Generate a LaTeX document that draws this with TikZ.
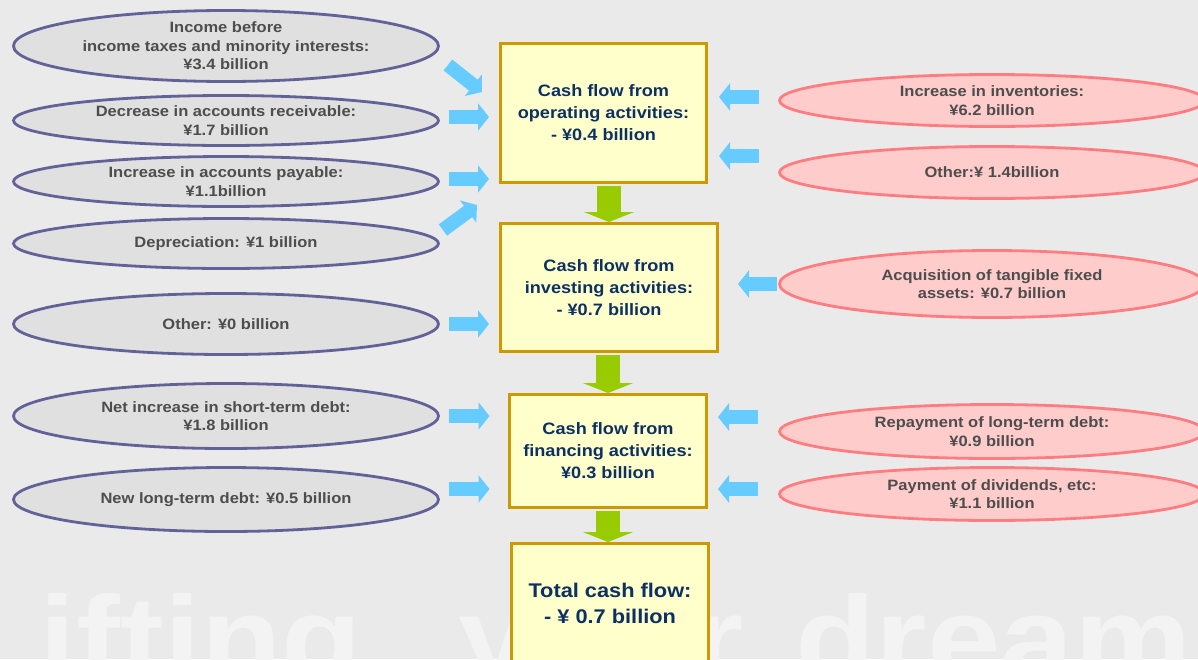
\documentclass[tikz,border=0pt]{standalone}
\usepackage{fontspec}
\setmainfont{Liberation Sans}[FakeStretch=1.1]
\usetikzlibrary{shapes.geometric,arrows.meta}
\definecolor{bgcol}{RGB}{234,234,234}
\definecolor{wmcol}{RGB}{243,243,243}
\definecolor{inline}{RGB}{98,98,152}
\definecolor{infill}{RGB}{224,224,224}
\definecolor{outline}{RGB}{255,124,128}
\definecolor{outfill}{RGB}{255,204,204}
\definecolor{boxedge}{RGB}{204,153,0}
\definecolor{boxfill}{RGB}{255,255,204}
\definecolor{navy}{RGB}{12,48,98}
\definecolor{txtgrey}{RGB}{77,77,77}
\definecolor{skyarrow}{RGB}{102,204,255}
\definecolor{limearrow}{RGB}{153,204,0}
\tikzset{
  inflow/.style={ellipse,draw=inline,fill=infill,line width=2.8pt,inner sep=0pt,
    minimum width=425,align=center,text=txtgrey,
    font=\fontsize{15}{18.5}\selectfont\bfseries},
  outflow/.style={inflow,draw=outline,fill=outfill},
  cfbox/.style={rectangle,draw=boxedge,fill=boxfill,line width=3pt,inner sep=0pt,
    align=center,text=navy,font=\fontsize{16.5}{22}\selectfont\bfseries},
  bluearr/.style={draw=skyarrow,line width=14pt,-{Triangle[length=11pt,width=27pt]}},
  greenarr/.style={draw=limearrow,line width=24pt,-{Triangle[length=10pt,width=50pt]}},
  watermark/.style={inner sep=0pt,text=wmcol,font=\fontsize{120}{120}\selectfont\bfseries}
}
\begin{document}
\begin{tikzpicture}[x=1pt,y=-1pt]
\useasboundingbox (0,0) rectangle (1198,659);
\fill[bgcol] (0,0) rectangle (1198,659);
\begin{scope}
\clip (0,0) rectangle (1198,659);
\node[watermark,anchor=base west] (wmA) at (-41,680) {Lifting};
\node[watermark,anchor=base west] (wmB) at (458,680) {your};
\node[watermark,anchor=base west] (wmC) at (795,680) {dreams};

\node[inflow,minimum height=71] (inc) at (226,46) {Income before\\income taxes and minority interests:\\¥3.4 billion};
\node[inflow,minimum height=50] (ar) at (226,120.5) {Decrease in accounts receivable:\\¥1.7 billion};
\node[inflow,minimum height=50] (ap) at (226,181.5) {Increase in accounts payable:\\¥1.1billion};
\node[inflow,minimum height=50] (dep) at (226,243.5) {Depreciation: ¥1 billion};
\node[inflow,minimum height=61] (oth) at (226,324) {Other: ¥0 billion};
\node[inflow,minimum height=65] (std) at (226,416) {Net increase in short-term debt:\\¥1.8 billion};
\node[inflow,minimum height=64] (ltd) at (226,499.5) {New long-term debt: ¥0.5 billion};

\node[outflow,minimum height=52] (invt) at (992,100.5) {Increase in inventories:\\¥6.2 billion};
\node[outflow,minimum height=52] (othr) at (992,172.5) {Other:¥ 1.4billion};
\node[outflow,minimum height=67] (acq) at (992,284) {Acquisition of tangible fixed\\assets: ¥0.7 billion};
\node[outflow,minimum height=54] (rep) at (992,431.5) {Repayment of long-term debt:\\¥0.9 billion};
\node[outflow,minimum height=53] (div) at (992,494) {Payment of dividends, etc:\\¥1.1 billion};

\node[cfbox,minimum width=206,minimum height=139] (op) at (603.5,113) {Cash flow from\\operating activities:\\- ¥0.4 billion};
\node[cfbox,minimum width=217,minimum height=128] (inv) at (609,287.5) {Cash flow from\\investing activities:\\- ¥0.7 billion};
\node[cfbox,minimum width=197,minimum height=113] (fin) at (608,451) {Cash flow from\\financing activities:\\¥0.3 billion};
\node[cfbox,minimum width=197,minimum height=119,font=\fontsize{19.8}{26}\selectfont\bfseries] (tot) at (610,603) {Total cash flow:\\- ¥ 0.7 billion};

\draw[greenarr,shorten <=2pt] (inv.north |- op.south) -- (inv.north);
\draw[greenarr,shorten <=2pt] (fin.north |- inv.south) -- (fin.north);
\draw[greenarr,shorten <=2pt] (fin.south) -- (fin.south |- tot.north);

\draw[bluearr] ([shift={(8pt,-19pt)}]inc.east) -- ([shift={(-17pt,-50pt)}]op.north west);
\draw[bluearr,transform canvas={yshift=3.5pt},shorten <=9pt,shorten >=10pt] (ar.east) -- (ar.east -| op.west);
\draw[bluearr,transform canvas={yshift=2.5pt},shorten <=9pt,shorten >=10pt] (ap.east) -- (ap.east -| op.west);
\draw[bluearr] ([shift={(3pt,13.5pt)}]dep.east) -- ([shift={(-22pt,-21pt)}]op.south west);
\draw[bluearr,shorten <=9pt,shorten >=10pt] (oth.east) -- (oth.east -| inv.west);
\draw[bluearr,shorten <=9pt,shorten >=18.5pt] (std.east) -- (std.east -| fin.west);
\draw[bluearr,transform canvas={yshift=10.5pt},shorten <=9pt,shorten >=18.5pt] (ltd.east) -- (ltd.east -| fin.west);

\draw[bluearr,transform canvas={yshift=3.5pt},shorten <=19pt,shorten >=11pt] (invt.west) -- (invt.west -| op.east);
\draw[bluearr,transform canvas={yshift=16.5pt},shorten <=19pt,shorten >=11pt] (othr.west) -- (othr.west -| op.east);
\draw[bluearr,shorten <=1pt,shorten >=19pt] (acq.west) -- (acq.west -| inv.east);
\draw[bluearr,transform canvas={yshift=14.5pt},shorten <=20pt,shorten >=10pt] (rep.west) -- (rep.west -| fin.east);
\draw[bluearr,transform canvas={yshift=5pt},shorten <=20pt,shorten >=10pt] (div.west) -- (div.west -| fin.east);
\end{scope}
\end{tikzpicture}
\end{document}
